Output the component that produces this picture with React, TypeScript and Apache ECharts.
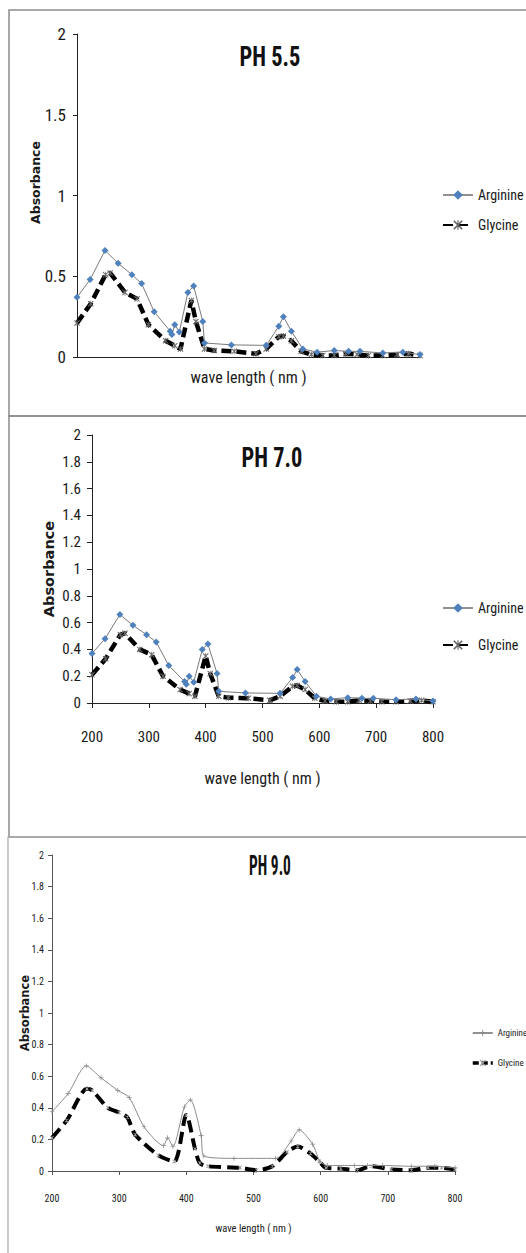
import React, { useEffect, useRef } from "react";
import * as echarts from "echarts";

// Wavelength (nm) and absorbance values.
// pH 5.5 and pH 7.0 panels show the same measured spectra.
const arginineWl = [200, 223, 249, 272, 296, 313, 335, 363, 366, 371, 379, 394, 404, 420, 423, 470, 531, 553, 561, 575, 595, 620, 650, 675, 695, 735, 770, 800];
const arginineAbs = [0.37, 0.48, 0.66, 0.58, 0.51, 0.455, 0.28, 0.16, 0.14, 0.2, 0.155, 0.4, 0.44, 0.22, 0.087, 0.075, 0.072, 0.19, 0.25, 0.16, 0.05, 0.03, 0.04, 0.035, 0.035, 0.025, 0.03, 0.015];
const glycineWl = [200, 224, 250, 258, 284, 305, 325, 355, 371, 381, 400, 408, 423, 440, 475, 513, 531, 553, 561, 575, 592, 610, 630, 650, 670, 690, 710, 735, 760, 780, 800];
const glycineAbs = [0.21, 0.33, 0.51, 0.52, 0.4, 0.36, 0.2, 0.1, 0.07, 0.05, 0.35, 0.22, 0.05, 0.04, 0.035, 0.02, 0.05, 0.125, 0.13, 0.1, 0.035, 0.015, 0.01, 0.01, 0.02, 0.015, 0.01, 0.01, 0.015, 0.02, 0.01];

// pH 9.0 panel
const arginine9Wl = [200, 224, 251, 273, 298, 315, 337, 366, 372, 380, 397, 406, 422, 426, 471, 533, 556, 568, 588, 599, 610, 650, 670, 692, 735, 770, 800];
const arginine9Abs = [0.375, 0.49, 0.665, 0.59, 0.51, 0.465, 0.28, 0.16, 0.21, 0.155, 0.405, 0.45, 0.225, 0.095, 0.08, 0.08, 0.19, 0.26, 0.17, 0.06, 0.035, 0.035, 0.035, 0.035, 0.03, 0.03, 0.02];
const glycine9Wl = [200, 222, 252, 260, 283, 300, 312, 324, 358, 382, 400, 413, 420, 432, 480, 505, 528, 550, 566, 585, 598, 608, 630, 655, 675, 705, 735, 760, 780, 800];
const glycine9Abs = [0.21, 0.32, 0.52, 0.51, 0.4, 0.37, 0.34, 0.23, 0.1, 0.06, 0.355, 0.14, 0.05, 0.03, 0.02, 0.005, 0.03, 0.12, 0.155, 0.11, 0.06, 0.02, 0.015, 0.005, 0.03, 0.01, 0.005, 0.02, 0.02, 0.01];

const titles = ["PH 5.5", "PH 7.0", "PH 9.0"];
const seriesNames = ["Arginine", "Glycine"];
const xName = "wave length ( nm )";
const yName = "Absorbance";

const pairs = (xs: number[], ys: number[]) => xs.map((x, i) => [x, ys[i]]);

const NARROW = "'Roboto Condensed', 'DejaVu Sans Condensed', sans-serif";
const WIDE_BOLD = "'DejaVu Sans', Verdana, sans-serif";

const X_MARK = "path://M0,1.2L1.2,0L10,8.8L8.8,10Z M8.8,0L10,1.2L1.2,10L0,8.8Z M4.4,0H5.6V10H4.4Z";
const PLUS_MARK = "path://M4.3,0H5.7V4.3H10V5.7H5.7V10H4.3V5.7H0V4.3H4.3Z";
const P9 = " (pH 9.0)";

export default function App() {
  const ref = useRef<HTMLDivElement>(null);

  useEffect(() => {
    if (!ref.current) return;
    const chart = echarts.init(ref.current, null, { renderer: "svg" });

    const grids = [
      { left: 77, top: 34, width: 343, height: 323 },
      { left: 92, top: 435, width: 341, height: 268 },
      { left: 52, top: 855, width: 403, height: 316 },
    ];

    const axisColor = "#222";
    const labelColor = "#1a1a1a";

    const xAxes = [
      {
        gridIndex: 0, type: "value", min: 200, max: 800, interval: 100,
        axisLine: { lineStyle: { color: axisColor, width: 1 } },
        axisTick: { show: false }, axisLabel: { show: false }, splitLine: { show: false },
        name: xName, nameLocation: "middle", nameGap: 12, nameMoveOverlap: false,
        nameTextStyle: { fontFamily: NARROW, fontSize: 16, color: labelColor },
      },
      {
        gridIndex: 1, type: "value", min: 200, max: 800, interval: 100,
        axisLine: { lineStyle: { color: axisColor, width: 1 } },
        axisTick: { show: true, length: 5, lineStyle: { color: axisColor } },
        axisLabel: { margin: 26, fontFamily: NARROW, fontSize: 15, color: labelColor },
        splitLine: { show: false },
        name: xName, nameLocation: "middle", nameGap: 67, nameMoveOverlap: false,
        nameTextStyle: { fontFamily: NARROW, fontSize: 16, color: labelColor },
      },
      {
        gridIndex: 2, type: "value", min: 200, max: 800, interval: 100,
        axisLine: { lineStyle: { color: "#555", width: 1 } },
        axisTick: { show: true, length: 4, lineStyle: { color: "#555" } },
        axisLabel: { margin: 22, fontFamily: NARROW, fontSize: 10, color: labelColor },
        splitLine: { show: false },
        name: xName, nameLocation: "middle", nameGap: 52, nameMoveOverlap: false,
        nameTextStyle: { fontFamily: NARROW, fontSize: 10.5, color: labelColor },
      },
    ];

    const yAxes = [
      {
        gridIndex: 0, type: "value", min: 0, max: 2, interval: 0.5,
        axisLine: { show: true, lineStyle: { color: axisColor, width: 1 } },
        axisTick: { show: true, length: 4, lineStyle: { color: axisColor } },
        axisLabel: { margin: 11, fontFamily: NARROW, fontSize: 17, color: labelColor },
        splitLine: { show: false },
        name: yName, nameLocation: "middle", nameGap: 35, nameRotate: 90, nameMoveOverlap: false,
        nameTextStyle: { fontFamily: WIDE_BOLD, fontWeight: "bold", fontSize: 12.5, color: labelColor, padding: [0, 0, 0, 26] },
      },
      {
        gridIndex: 1, type: "value", min: 0, max: 2, interval: 0.2,
        axisLine: { show: true, lineStyle: { color: axisColor, width: 1 } },
        axisTick: { show: true, length: 5, lineStyle: { color: axisColor } },
        axisLabel: { margin: 11, fontFamily: NARROW, fontSize: 15, color: labelColor },
        splitLine: { show: false },
        name: yName, nameLocation: "middle", nameGap: 36, nameRotate: 90, nameMoveOverlap: false,
        nameTextStyle: { fontFamily: WIDE_BOLD, fontWeight: "bold", fontSize: 14.5, color: labelColor },
      },
      {
        gridIndex: 2, type: "value", min: 0, max: 2, interval: 0.2,
        axisLine: { show: true, lineStyle: { color: "#555", width: 1 } },
        axisTick: { show: true, length: 4, lineStyle: { color: "#555" } },
        axisLabel: { margin: 8, fontFamily: NARROW, fontSize: 10, color: labelColor },
        splitLine: { show: false },
        name: yName, nameLocation: "middle", nameGap: 21, nameRotate: 90, nameMoveOverlap: false,
        nameTextStyle: { fontFamily: WIDE_BOLD, fontWeight: "bold", fontSize: 11.5, color: labelColor },
      },
    ];

    const argStyle = (i: number) => ({
      name: seriesNames[0], type: "line", xAxisIndex: i, yAxisIndex: i,
      data: pairs(arginineWl, arginineAbs),
      symbol: "diamond", symbolSize: 7, showSymbol: true,
      itemStyle: { color: "#4f81bd" },
      lineStyle: { color: "#7a7a7a", width: 1 },
      z: 3,
    });
    const glyStyle = (i: number) => ({
      name: seriesNames[1], type: "line", xAxisIndex: i, yAxisIndex: i,
      data: pairs(glycineWl, glycineAbs),
      symbol: X_MARK, symbolSize: 6, showSymbol: true,
      itemStyle: { color: "#666" },
      lineStyle: { color: "#000", width: 4.5, type: [10, 5] },
      z: 2,
    });

    const series = [
      argStyle(0), glyStyle(0), argStyle(1), glyStyle(1),
      {
        name: seriesNames[0] + P9, type: "line", xAxisIndex: 2, yAxisIndex: 2,
        data: pairs(arginine9Wl, arginine9Abs), smooth: 0.25,
        symbol: PLUS_MARK, symbolSize: 5, showSymbol: true,
        itemStyle: { color: "#888" },
        lineStyle: { color: "#8a8a8a", width: 1 },
        z: 3,
      },
      {
        name: seriesNames[1] + P9, type: "line", xAxisIndex: 2, yAxisIndex: 2,
        data: pairs(glycine9Wl, glycine9Abs), smooth: 0.25,
        symbol: X_MARK, symbolSize: 4, showSymbol: true,
        itemStyle: { color: "#999" },
        lineStyle: { color: "#000", width: 4, type: [12, 6] },
        z: 2,
      },
    ];

    const legendBase = {
      orient: "vertical", selectedMode: false, padding: 0,
      formatter: (n: string) => n.replace(P9, ""),
    };
    const legends = [
      {
        ...legendBase, left: 442, top: 187, itemWidth: 30, itemHeight: 12, itemGap: 14,
        textStyle: { fontFamily: NARROW, fontSize: 14, lineHeight: 16, color: labelColor },
        data: [
          { name: seriesNames[0], lineStyle: { color: "#222", width: 1 } },
          { name: seriesNames[1] },
        ],
      },
      {
        ...legendBase, left: 442, top: 600, itemWidth: 30, itemHeight: 12, itemGap: 21,
        textStyle: { fontFamily: NARROW, fontSize: 14, lineHeight: 16, color: labelColor },
        data: [
          { name: seriesNames[0], lineStyle: { color: "#222", width: 1 } },
          { name: seriesNames[1] },
        ],
      },
      {
        ...legendBase, left: 471, top: 1027, itemWidth: 20, itemHeight: 8, itemGap: 18,
        textStyle: { fontFamily: NARROW, fontSize: 9, lineHeight: 12, color: labelColor },
        data: [
          { name: seriesNames[0] + P9, lineStyle: { color: "#222", width: 1 } },
          { name: seriesNames[1] + P9, lineStyle: { color: "#000", width: 3.5, type: [6, 3] } },
        ],
      },
    ];

    const titleCfg = [
      { x: 270, y: 56, scaleX: 0.8 },
      { x: 272, y: 457, scaleX: 0.8 },
      { x: 270, y: 866, scaleX: 0.55 },
    ];

    chart.setOption({
      animation: false,
      backgroundColor: "#fff",
      grid: grids,
      xAxis: xAxes,
      yAxis: yAxes,
      legend: legends,
      series,
      graphic: [
        { type: "rect", shape: { x: 9, y: 10, width: 540, height: 406 }, style: { fill: "none", stroke: "#8c8c8c", lineWidth: 1.5 }, silent: true },
        { type: "rect", shape: { x: 9, y: 416, width: 540, height: 421 }, style: { fill: "none", stroke: "#8c8c8c", lineWidth: 1.5 }, silent: true },
        { type: "rect", shape: { x: 8, y: 837, width: 540, height: 440 }, style: { fill: "none", stroke: "#aaaaaa", lineWidth: 1.2 }, silent: true },
        ...titleCfg.map((t, i) => ({
          type: "text", x: t.x, y: t.y, scaleX: t.scaleX, silent: true,
          style: {
            text: titles[i], textAlign: "center", textVerticalAlign: "middle",
            font: `bold 28px ${NARROW}`, fill: "#111",
          },
        })),
      ],
    });

    return () => chart.dispose();
  }, []);

  return (
    <div
      ref={ref}
      style={{ position: "absolute", left: 0, top: 0, width: 526, height: 1253, background: "#fff" }}
    />
  );
}
